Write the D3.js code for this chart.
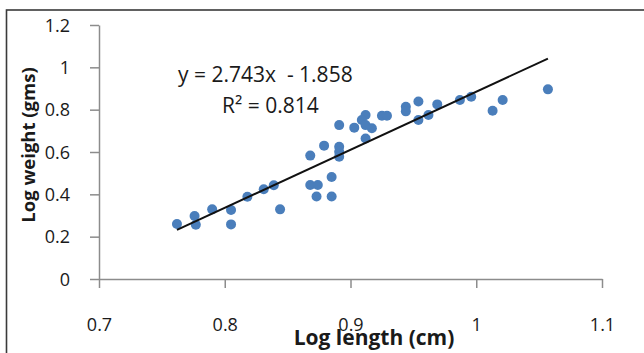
<!DOCTYPE html>
<html>
<head>
<meta charset="utf-8">
<script src="https://cdn.jsdelivr.net/npm/d3@7"></script>
<style>
  html, body { margin: 0; padding: 0; background: #fff; }
  svg { display: block; }
</style>
</head>
<body>
<div id="chart"></div>
<script>
// Log length (cm) vs Log weight (gms)
const logLength = [
  0.762, 0.776, 0.777, 0.790, 0.805, 0.805, 0.818, 0.831, 0.839, 0.844,
  0.868, 0.868, 0.874, 0.873, 0.879, 0.885, 0.885, 0.891, 0.891, 0.891,
  0.891, 0.903, 0.912, 0.909, 0.912, 0.917, 0.912, 0.925, 0.929, 0.944,
  0.944, 0.954, 0.954, 0.962, 0.969, 0.987, 0.996, 1.013, 1.021, 1.057
];
const logWeight = [
  0.260, 0.298, 0.256, 0.329, 0.326, 0.258, 0.389, 0.424, 0.443, 0.329,
  0.583, 0.444, 0.444, 0.390, 0.630, 0.482, 0.390, 0.727, 0.625, 0.601,
  0.578, 0.715, 0.775, 0.751, 0.727, 0.712, 0.664, 0.771, 0.771, 0.814,
  0.792, 0.839, 0.751, 0.775, 0.825, 0.846, 0.861, 0.795, 0.846, 0.896
];
const xTicks = [0.7, 0.8, 0.9, 1, 1.1];
const yTicks = [0, 0.2, 0.4, 0.6, 0.8, 1, 1.2];
const slope = 2.743;
const intercept = -1.858;
const equationLabel = 'y = 2.743x\u00a0\u00a0- 1.858';
const r2Label = 'R\u00b2 = 0.814';

const W = 644, H = 353;
const plot = { left: 99, right: 602, top: 25, bottom: 279 };
const font = '"Open Sans", "Liberation Sans", sans-serif';

const svg = d3.select('#chart').append('svg')
  .attr('width', W)
  .attr('height', H);

// frame of the chart area (runs off the right and bottom)
svg.append('rect')
  .attr('x', 6.5).attr('y', 10)
  .attr('width', 700).attr('height', 400)
  .attr('fill', 'none')
  .attr('stroke', '#3a3a3a')
  .attr('stroke-width', 1.6);

const x = d3.scaleLinear().domain([0.7, 1.1]).range([plot.left, plot.right]);
const y = d3.scaleLinear().domain([0, 1.2]).range([plot.bottom, plot.top]);

// Axes
const xAxis = svg.append('g')
  .attr('transform', `translate(0,${plot.bottom})`)
  .call(d3.axisBottom(x).tickValues(xTicks).tickSize(9).tickSizeOuter(0)
    .tickPadding(30).tickFormat(d3.format('')));

const yAxis = svg.append('g')
  .attr('transform', `translate(${plot.left},0)`)
  .call(d3.axisLeft(y).tickValues(yTicks).tickSize(9).tickSizeOuter(0)
    .tickPadding(20).tickFormat(d3.format('')));

[xAxis, yAxis].forEach(ax => {
  ax.select('.domain').attr('stroke', '#8c8c8c').attr('stroke-width', 1.5);
  ax.selectAll('.tick line').attr('stroke', '#8c8c8c').attr('stroke-width', 1.5);
  ax.selectAll('.tick text')
    .attr('fill', '#1a1a1a')
    .attr('font-family', font)
    .attr('font-size', '18px');
});
yAxis.selectAll('.tick text').attr('dy', '0.35em');

// Points
svg.append('g')
  .selectAll('circle')
  .data(d3.zip(logLength, logWeight))
  .enter()
  .append('circle')
  .attr('cx', d => x(d[0]))
  .attr('cy', d => y(d[1]))
  .attr('r', 5)
  .attr('fill', '#4a7ebb');

// Linear trendline over the data range
const xMin = d3.min(logLength), xMax = d3.max(logLength);
svg.append('line')
  .attr('x1', x(xMin)).attr('y1', y(slope * xMin + intercept))
  .attr('x2', x(xMax)).attr('y2', y(slope * xMax + intercept))
  .attr('stroke', '#111')
  .attr('stroke-width', 2);

// Trendline labels
svg.append('text')
  .attr('x', 178).attr('y', 82)
  .attr('font-family', font)
  .attr('font-size', '21px')
  .attr('fill', '#1a1a1a')
  .text(equationLabel);

svg.append('text')
  .attr('x', 222).attr('y', 113)
  .attr('font-family', font)
  .attr('font-size', '21px')
  .attr('fill', '#1a1a1a')
  .text(r2Label);

// Axis titles
svg.append('text')
  .attr('x', 374).attr('y', 345)
  .attr('text-anchor', 'middle')
  .attr('font-family', font)
  .attr('font-weight', 'bold')
  .attr('font-size', '21px')
  .attr('fill', '#1a1a1a')
  .text('Log length (cm)');

svg.append('text')
  .attr('transform', 'translate(35,145) rotate(-90)')
  .attr('text-anchor', 'middle')
  .attr('font-family', font)
  .attr('font-weight', 'bold')
  .attr('font-size', '18.5px')
  .attr('fill', '#1a1a1a')
  .text('Log weight (gms)');
</script>
</body>
</html>
